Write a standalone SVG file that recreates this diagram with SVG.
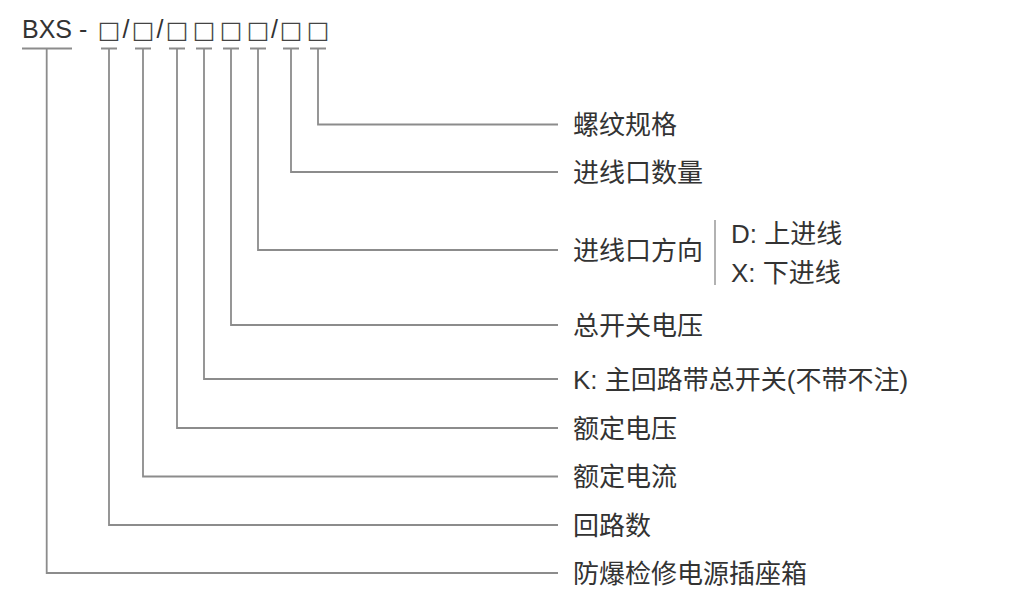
<svg xmlns="http://www.w3.org/2000/svg" width="1024" height="610" viewBox="0 0 1024 610">
<style>
.t{font-family:"Liberation Sans","Noto Sans CJK SC",sans-serif;fill:#333;}
.lbl{font-size:26px;}
.hd{font-size:25px;}
.box{font-family:"DejaVu Sans",sans-serif;font-size:24px;fill:#444;}
.ln{stroke:#8c8c8c;stroke-width:1.8;fill:none;}
.bar{stroke:#999;stroke-width:1.5;}
</style>
<rect width="1024" height="610" fill="#fff"/>
<g id="code">
<text class="t hd" x="22" y="38">BXS -</text>
<text class="t hd" y="38" text-anchor="middle"><tspan class="box" x="109">□</tspan><tspan x="126">/</tspan><tspan class="box" x="143">□</tspan><tspan x="160">/</tspan><tspan class="box" x="177">□</tspan><tspan class="box" x="204">□</tspan><tspan class="box" x="231">□</tspan><tspan class="box" x="258">□</tspan><tspan x="274.5">/</tspan><tspan class="box" x="291">□</tspan><tspan class="box" x="318">□</tspan></text>
</g>
<g id="connectors">
<path class="ln" d="M22 48.5H72M46.7 48.5V573H558"/>
<path class="ln" d="M101 48.5H117M109 48.5V525H558"/>
<path class="ln" d="M135 48.5H151M143 48.5V476.5H558"/>
<path class="ln" d="M169 48.5H185M177 48.5V428H558"/>
<path class="ln" d="M196 48.5H212M204 48.5V379H558"/>
<path class="ln" d="M223 48.5H239M231 48.5V325H558"/>
<path class="ln" d="M250 48.5H266M258 48.5V250H558"/>
<path class="ln" d="M283 48.5H299M291 48.5V172H558"/>
<path class="ln" d="M310 48.5H326M318 48.5V124.5H558"/>
</g>
<g id="n-thread"><text class="t lbl" x="573" y="134">螺纹规格</text></g>
<g id="n-count"><text class="t lbl" x="573" y="181.5">进线口数量</text></g>
<g id="n-direction">
<text class="t lbl" x="573" y="259.5">进线口方向</text>
<line class="bar" x1="715" y1="220" x2="715" y2="285"/>
<text class="t lbl" x="731" y="242.5">D: 上进线</text>
<text class="t lbl" x="731" y="282">X: 下进线</text>
</g>
<g id="n-mainvolt"><text class="t lbl" x="573" y="334.5">总开关电压</text></g>
<g id="n-switch"><text class="t lbl" x="573" y="388.5">K: 主回路带总开关(不带不注)</text></g>
<g id="n-ratedvolt"><text class="t lbl" x="573" y="437.5">额定电压</text></g>
<g id="n-ratedcur"><text class="t lbl" x="573" y="486">额定电流</text></g>
<g id="n-circuits"><text class="t lbl" x="573" y="534.5">回路数</text></g>
<g id="n-box"><text class="t lbl" x="573" y="582.5">防爆检修电源插座箱</text></g>
</svg>
